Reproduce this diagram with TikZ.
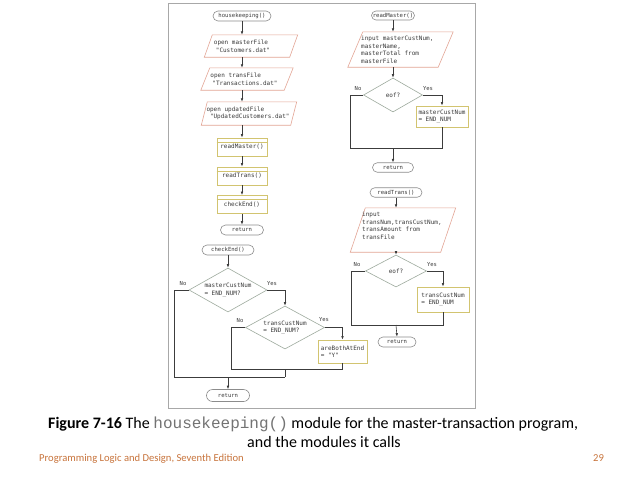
\documentclass[tikz,border=0pt]{standalone}
\usepackage{fontspec}
\setmainfont{Carlito}
\newfontfamily\diagmono{DejaVu Sans Mono}
\newfontfamily\capmono{Liberation Mono}
\usetikzlibrary{shapes.geometric,shapes.misc,arrows.meta}
\definecolor{termc}{HTML}{8C8C8C}
\definecolor{ioc}{HTML}{E3A595}
\definecolor{procc}{HTML}{D2C470}
\definecolor{decc}{HTML}{9EAA9E}
\definecolor{linec}{HTML}{3C3C3C}
\definecolor{txtc}{HTML}{3A3A3A}
\definecolor{framec}{HTML}{A8A8A8}
\definecolor{footc}{HTML}{C8743C}
\newcommand\ioshape[2]{\draw[ioline] ([xshift=#2]#1.north west) -- ([xshift=#2]#1.north east) -- ([xshift=-#2]#1.south east) -- ([xshift=-#2]#1.south west) -- cycle;}
\newcommand\callstripe[1]{\draw[procc, line width=0.7pt] ([yshift=-4.5pt]#1.north west) -- ([yshift=-4.5pt]#1.north east);}
\begin{document}
\begin{tikzpicture}[x=1pt,y=-1pt,
  every node/.style={font=\diagmono\fontsize{6}{7.5}\selectfont, text=txtc},
  term/.style={rounded rectangle, draw=termc, fill=white, line width=0.6pt, minimum height=10pt, inner sep=0pt, inner xsep=1pt, font=\diagmono\fontsize{5.6}{7}\selectfont},
  iobox/.style={rectangle, inner sep=0pt},
  ioline/.style={draw=ioc, fill=white, line width=0.6pt},
  iotext/.style={align=left, inner sep=0pt},
  call/.style={rectangle, draw=procc, fill=white, line width=0.8pt, minimum width=50pt, minimum height=18pt, inner sep=0pt},
  proc/.style={rectangle, draw=procc, fill=white, line width=0.8pt, inner sep=1.5pt, align=left},
  dec/.style={diamond, draw=decc, fill=white, line width=0.6pt, inner sep=0pt, align=left},
  conn/.style={draw=linec, line width=0.6pt},
  arr/.style={conn, -{Latex[length=3.5pt,width=2.6pt]}},
  lab/.style={font=\diagmono\fontsize{5.5}{6}\selectfont, inner sep=0pt},
  captxt/.style={font=\rmfamily\fontsize{16}{19}\selectfont, text=black, inner sep=0pt},
  foot/.style={font=\rmfamily\fontsize{10.6}{12}\selectfont, text=footc, inner sep=0pt},
]
\useasboundingbox (0,0) rectangle (640,480);
\fill[white] (0,0) rectangle (640,480);
\draw[framec, line width=1pt, fill=white] (168,3) rectangle (475,408);

% ---------- housekeeping() ----------
\node[term, minimum width=60pt] (hk) at (242,16) {housekeeping()};
\node[iobox, minimum width=85pt, minimum height=22pt] (p1) at (251,46) {};
\ioshape{p1}{4pt}
\node[iotext] (p1t) at (242,46) {open masterFile\\\hspace*{2pt}"Customers.dat"};
\node[iobox, minimum width=83pt, minimum height=22pt] (p2) at (247,79) {};
\ioshape{p2}{4.5pt}
\node[iotext] (p2t) at (244,79) {open transFile\\\hspace*{2pt}"Transactions.dat"};
\node[iobox, minimum width=89pt, minimum height=23pt] (p3) at (249,113.5) {};
\ioshape{p3}{3pt}
\node[iotext] (p3t) at (248,113.5) {open updatedFile\\\hspace*{3.5pt}"UpdatedCustomers.dat"};
\node[call] (rm) at (242,147) {readMaster()};
\callstripe{rm}
\node[call] (rt) at (242,176) {readTrans()};
\callstripe{rt}
\node[call] (ce) at (242,204.5) {checkEnd()};
\callstripe{ce}
\node[term, minimum width=45pt] (ret1) at (242,230) {return};

\draw[arr] (hk.south) -- (hk.south |- p1.north);
\draw[arr] (hk.south |- p1.south) -- (hk.south |- p2.north);
\draw[arr] (hk.south |- p2.south) -- (hk.south |- p3.north);
\draw[arr] (hk.south |- p3.south) -- (rm.north);
\draw[arr] (rm.south) -- (rt.north);
\draw[arr] (rt.south) -- (ce.north);
\draw[arr] (ce.south) -- (ret1.north);

% ---------- checkEnd() ----------
\node[term, minimum width=54pt] (ce2) at (228,250) {checkEnd()};
\node[dec, aspect=1.77, minimum width=78pt, minimum height=44pt] (d1) at (228,290) {masterCustNum\\= END\_NUM?};
\node[dec, aspect=1.8, minimum width=79pt, minimum height=43pt] (d2) at (285,327.5) {transCustNum\\= END\_NUM?};
\node[proc, minimum width=49pt, minimum height=23pt] (ab) at (342.5,351.5) {areBothAtEnd\\= "Y"};
\node[term, minimum width=45pt, minimum height=12pt] (ret2) at (228,395.5) {return};
\coordinate (j2) at (285,369);
\coordinate (j1) at (228,377);

\draw[arr] (ce2.south) -- (d1.north);
\draw[arr] (d1.east) -| (d2.north);
\draw[arr] (d2.east) -| (ab.north);
\draw[conn] (ab.south) |- (j2);
\draw[conn] (d2.west) -- ++(-14,0) |- (j2);
\draw[conn] (j2) -- (j2 |- j1);
\draw[conn] (d1.west) -- ++(-14,0) |- (j2 |- j1);
\draw[arr] (j1) -- (ret2.north);
\node[lab] (n1) at (183,284) {No};
\node[lab] (y1) at (272,284) {Yes};
\node[lab] (n2) at (240,321) {No};
\node[lab] (y2) at (324,320) {Yes};

% ---------- readMaster() ----------
\node[term, minimum width=45pt, minimum height=9pt] (rmt) at (393,15.5) {readMaster()};
\node[iobox, minimum width=90pt, minimum height=35pt] (p4) at (400.5,49.5) {};
\ioshape{p4}{7.5pt}
\node[iotext, anchor=west] (p4t) at (361,50) {input masterCustNum,\\masterName,\\masterTotal from\\masterFile};
\node[dec, aspect=1.74, minimum width=59pt, minimum height=34pt] (e1) at (393,95) {eof?};
\node[proc, minimum width=52pt, minimum height=21pt] (mb) at (442,116.5) {masterCustNum\\= END\_NUM};
\node[term, minimum width=43pt, minimum height=9.5pt] (ret3) at (393,167.5) {return};
\coordinate (j3) at (393,148);

\draw[arr] (rmt.south) -- (rmt.south |- p4.north);
\draw[arr] (rmt.south |- p4.south) -- (e1.north);
\draw[arr] (e1.east) -| (mb.north);
\draw[conn] (mb.south) |- (j3);
\draw[conn] (e1.west) -- ++(-13,0) |- (j3);
\draw[arr] (j3) -- (ret3.north);
\node[lab] (n3) at (358,89) {No};
\node[lab] (y3) at (428,89) {Yes};

% ---------- readTrans() ----------
\node[term, minimum width=54pt, minimum height=9.5pt] (rtt) at (396,192.5) {readTrans()};
\node[iobox, minimum width=90pt, minimum height=44pt] (p5) at (403,230) {};
\ioshape{p5}{7.5pt}
\node[iotext, anchor=west] (p5t) at (362,226) {input\\transNum,transCustNum,\\transAmount from\\transFile};
\node[dec, aspect=1.9, minimum width=61pt, minimum height=32pt] (e2) at (396,271) {eof?};
\node[proc, minimum width=52pt, minimum height=25pt] (tb) at (443,299.5) {transCustNum\\= END\_NUM};
\node[term, minimum width=40pt, minimum height=10pt] (ret4) at (397,342) {return};
\coordinate (j4) at (396,325);

\draw[arr] (rtt.south) -- (rtt.south |- p5.north);
\draw[arr] (rtt.south |- p5.south) -- (e2.north);
\draw[arr] (e2.east) -| (tb.north);
\draw[conn] (tb.south) |- (j4);
\draw[conn] (e2.west) -- ++(-14,0) |- (j4);
\draw[arr] (j4) -- (ret4.north);
\node[lab] (n4) at (357,265) {No};
\node[lab] (y4) at (432,265) {Yes};

% ---------- caption ----------
\node[captxt, anchor=base west] (cap1) at (48,428.5) {\textbf{Figure 7-16} The {\capmono\color{black!55}housekeeping()} module for the master-transaction program,};
\node[captxt, anchor=base] (cap2) at (324,447.5) {and the modules it calls};
\node[foot, anchor=base west] (ft) at (39,461) {Programming Logic and Design, Seventh Edition};
\node[foot, anchor=base west] (pg) at (593,461) {29};
\end{tikzpicture}
\end{document}
